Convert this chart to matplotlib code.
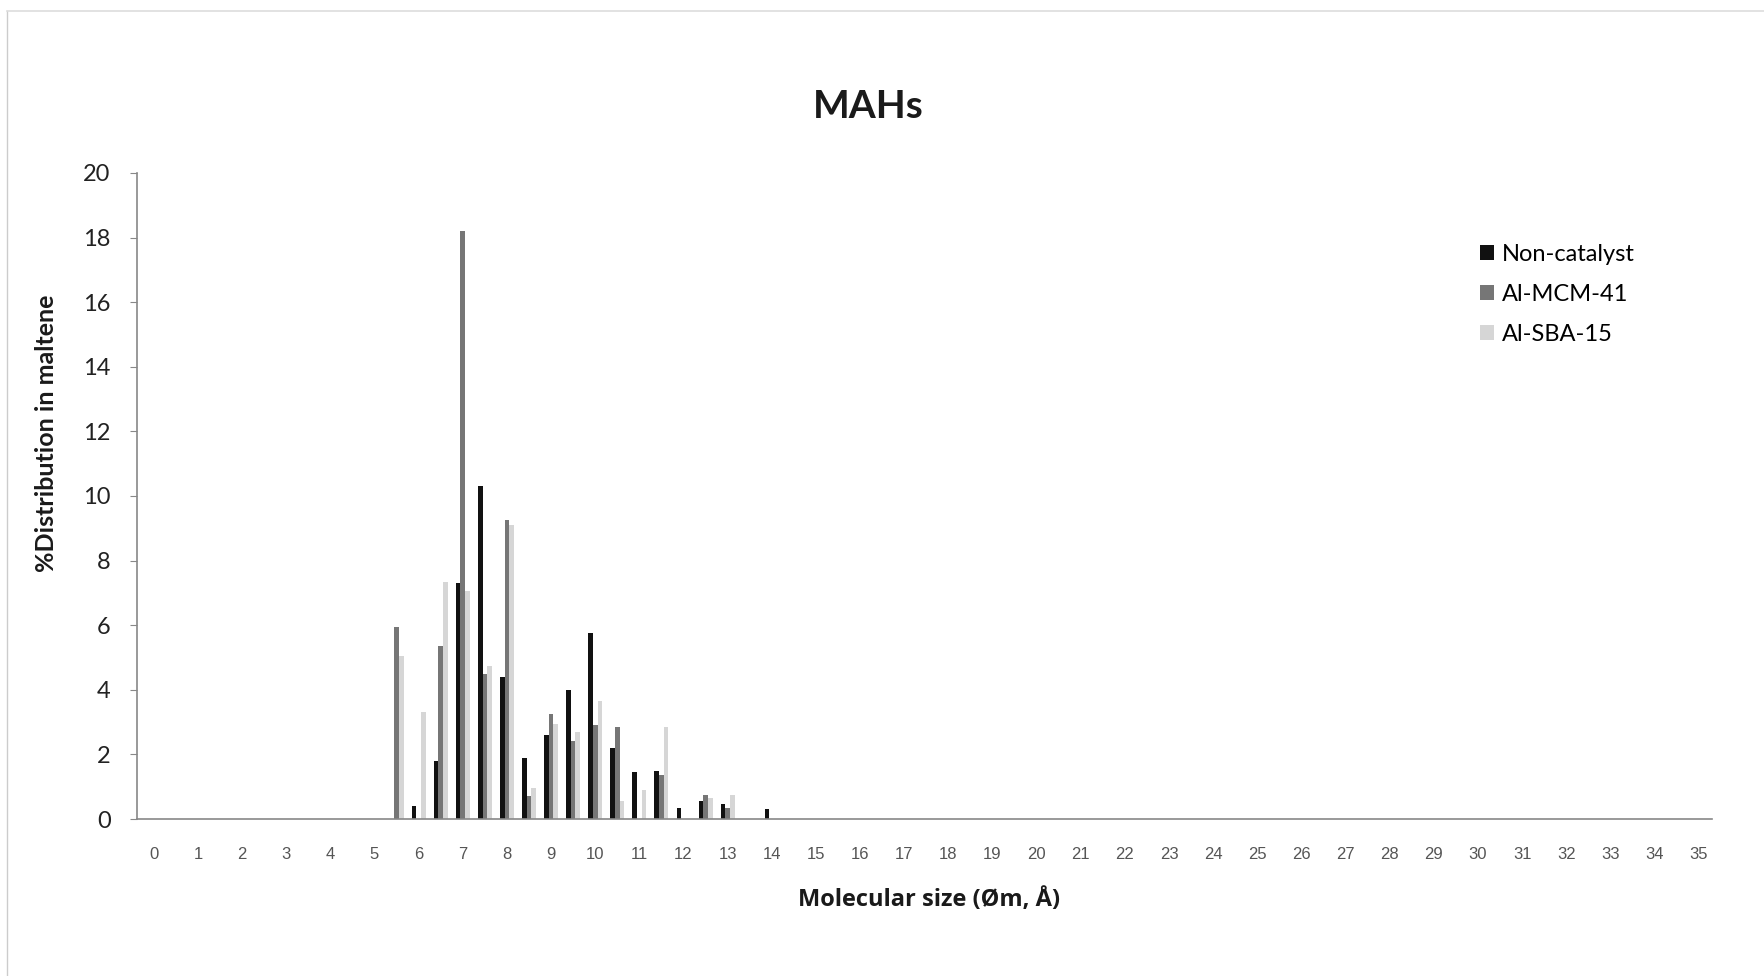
import matplotlib.pyplot as plt
import numpy as np
from matplotlib.lines import Line2D
from matplotlib.patches import Patch

plt.rcParams['font.family'] = ['Lato', 'DejaVu Sans']

# molecular size groups (Angstrom) that carry a bar, the rest are zero
size = [5.5, 6, 6.5, 7, 7.5, 8, 8.5, 9, 9.5, 10, 10.5, 11, 11.5, 12, 12.5, 13, 13.5, 14]
non_catalyst = [0, 0.4, 1.8, 7.3, 10.3, 4.4, 1.9, 2.6, 4.0, 5.75, 2.2, 1.45, 1.5, 0.35, 0.55, 0.45, 0, 0.3]
al_mcm41 = [5.95, 0, 5.35, 18.2, 4.5, 9.25, 0.7, 3.25, 2.4, 2.9, 2.85, 0, 1.35, 0, 0.75, 0.35, 0, 0]
al_sba15 = [5.05, 3.3, 7.35, 7.05, 4.75, 9.1, 0.95, 2.95, 2.7, 3.65, 0.55, 0.9, 2.85, 0, 0.65, 0.75, 0, 0]

labels = ['Non-catalyst', 'Al-MCM-41', 'Al-SBA-15']
c = ['#111111', '#767676', '#d6d6d6']
xticks = list(range(0, 36))
yticks = list(range(0, 21, 2))

fig = plt.figure(figsize=(17.64, 9.76), dpi=100)
ax = fig.add_axes([137/1764, 1 - 819/976, (1712-137)/1764, (819-173)/976])

x = np.array(size)
w = 0.105
for k, vals in enumerate([non_catalyst, al_mcm41, al_sba15]):
    ax.bar(x + (k - 1)*w, vals, width=w, color=c[k], linewidth=0)

ax.set_xlim(-0.38, 35.3)
ax.set_ylim(0, 20)
ax.set_xticks(xticks)
ax.set_xticklabels([str(t) for t in xticks], family='Liberation Sans', fontsize=12, color='#555555')
ax.set_yticks(yticks)
ax.set_yticklabels([str(t) for t in yticks], fontsize=17, color='#222222')
ax.tick_params(axis='x', length=0, pad=20)
ax.tick_params(axis='y', length=5, color='#888888', pad=14)

for s in ['top', 'right']:
    ax.spines[s].set_visible(False)
ax.spines['left'].set_color('#888888')
ax.spines['bottom'].set_color('#888888')
ax.spines['left'].set_linewidth(1.2)
ax.spines['bottom'].set_linewidth(1.2)

fig.text(868/1764, 1 - 107/976, 'MAHs', ha='center', va='center', fontsize=28, fontweight='bold', color='#1a1a1a')
fig.text(47/1764, 1 - 433/976, '%Distribution in maltene', rotation=90, ha='center', va='center',
         fontsize=18, fontweight='bold', color='#1a1a1a')
fig.text(929/1764, 1 - 906/976, 'Molecular size (Øm, Å)', ha='center', va='baseline',
         family='Open Sans', fontsize=17, fontweight='bold', color='#1a1a1a')

handles = [Patch(facecolor=c[k], edgecolor='none') for k in range(3)]
fig.legend(handles, labels, loc='upper left', bbox_to_anchor=(1468/1764, 1 - 232/976),
           frameon=False, fontsize=17, handlelength=0.6, handleheight=0.6,
           handletextpad=0.35, labelspacing=0.8, borderpad=0)

# faint border of the scanned page
fig.add_artist(Line2D([7/1764, 7/1764], [0, 1 - 11/976], color='#cccccc', lw=1))
fig.add_artist(Line2D([7/1764, 1], [1 - 11/976, 1 - 11/976], color='#dddddd', lw=1.2))

plt.savefig('out.png', dpi=100)
